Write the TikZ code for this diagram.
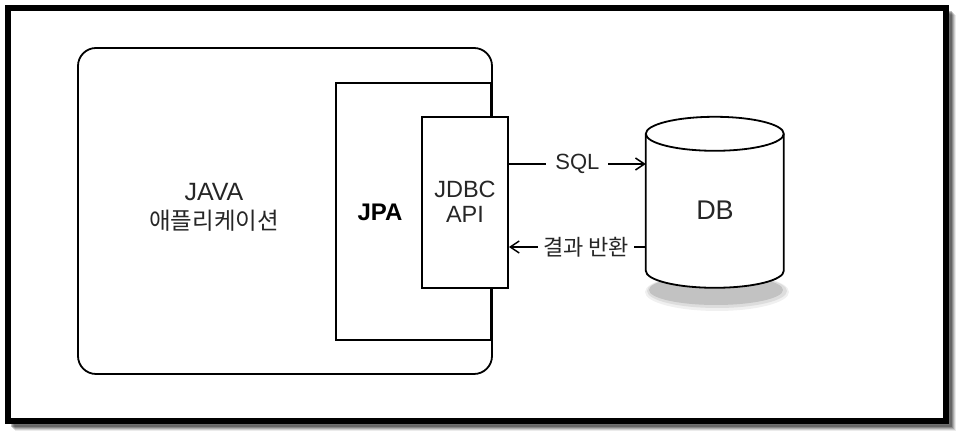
\documentclass[tikz,border=0pt]{standalone}
\usepackage{fontspec}
\setmainfont{Liberation Sans}
\newfontfamily\krfont{Noto Sans CJK KR}
\usetikzlibrary{arrows.meta}
\begin{document}
\begin{tikzpicture}[x=1pt,y=1pt,
  boxline/.style={draw=black, line width=1.8pt},
  txt/.style={inner sep=0pt, align=center, text=black!85},
  arr/.style={line width=1.5pt, -{Straight Barb[length=9pt,width=12pt,line width=1.5pt]}},
  lbl/.style={fill=white, inner ysep=2pt, text=black!85}
]
\useasboundingbox (0,0) rectangle (962,438);
\fill[white] (0,0) rectangle (962,438);
% frame shadow
\foreach \o/\op in {7/0.08,6/0.12,5/0.16,4/0.2,3/0.25} {
  \draw[line width=6pt, black, opacity=\op] (8+\o,17-\o) -- (946+\o,17-\o) -- (946+\o,430-\o);
}
\node[draw=black, line width=6pt, minimum width=938pt, minimum height=413pt, inner sep=0pt] (frame) at (477,223.5) {};
% application box
\node[boxline, fill=white, rounded corners=18pt, minimum width=414pt, minimum height=326pt, inner sep=0pt] (app) at (285,227) {};
\node[txt, font=\fontsize{25}{29}\selectfont] (applabel) at (214,231) {JAVA\\{\krfont\fontsize{23.5}{29}\selectfont 애플리케이션}};
% JPA
\node[boxline, fill=white, minimum width=155pt, minimum height=257pt, inner sep=0pt] (jpa) at (413.5,226.5) {};
\node[txt, font=\bfseries\fontsize{24}{28}\selectfont, text=black] (jpalabel) at (380,226) {JPA};
% JDBC
\node[boxline, fill=white, minimum width=86pt, minimum height=171pt, inner sep=0pt] (jdbc) at (465,235.5) {};
\node[txt, font=\fontsize{23.5}{25}\selectfont] (jdbclabel) at (465,236) {JDBC\\API};
% DB cylinder
\node[minimum width=138pt, minimum height=171pt, inner sep=0pt] (db) at (715,235.5) {};
\fill[black, opacity=0.06] (717,146) ellipse[x radius=72, y radius=19];
\fill[black, opacity=0.08] (717,147) ellipse[x radius=70, y radius=17];
\fill[black, opacity=0.12] (716,148) ellipse[x radius=67, y radius=15];
\draw[line width=1.8pt, fill=white] (db.north west) ++(0,-17) -- ++(0,-137)
  arc[start angle=180, end angle=360, x radius=69, y radius=17] -- ++(0,137)
  arc[start angle=0, end angle=180, x radius=69, y radius=17] -- cycle;
\draw[line width=1.8pt] (db.north west) ++(0,-17) arc[start angle=180, end angle=360, x radius=69, y radius=17];
\node[txt, font=\fontsize{27}{30}\selectfont] (dblabel) at (715,228) {DB};
% connectors
\draw[arr] ([yshift=38.5pt]jdbc.east) -- node[lbl, inner xsep=9pt, pos=0.5, font=\fontsize{22}{24}\selectfont] (sql) {SQL} ([yshift=38.5pt]db.west);
\draw[arr] ([yshift=-44.5pt]db.west) -- node[lbl, inner xsep=5pt, pos=0.435, font=\krfont\fontsize{22}{24}\selectfont] (ret) {결과 반환} ([yshift=-44.5pt]jdbc.east);
\end{tikzpicture}
\end{document}
